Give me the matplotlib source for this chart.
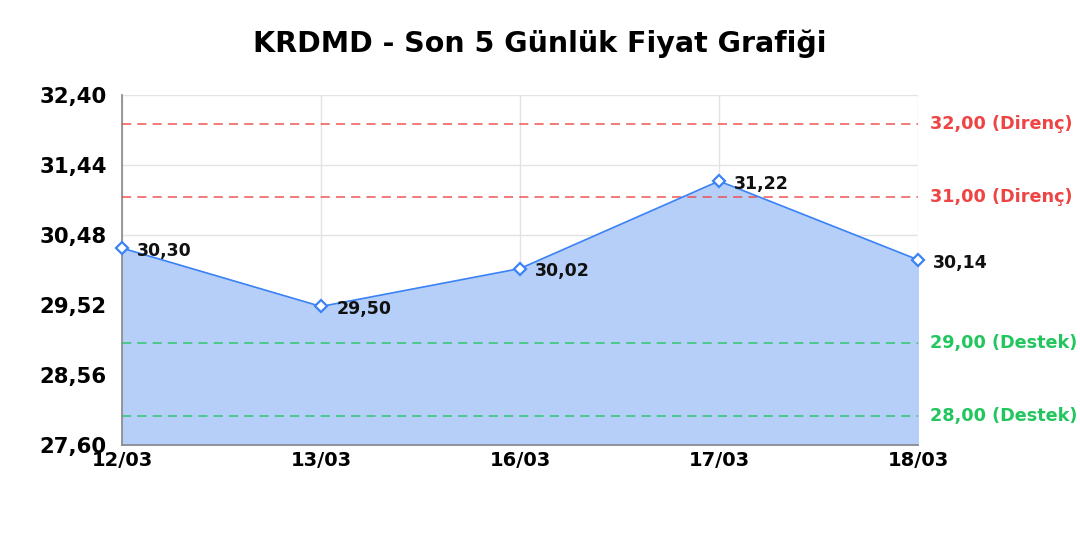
import numpy as np
import matplotlib
matplotlib.use("Agg")
import matplotlib.pyplot as plt

plt.rcParams['font.family'] = ['DejaVu Sans']

# gunler ve kapanis fiyatlari
dates = ["12/03", "13/03", "16/03", "17/03", "18/03"]
prices = [30.30, 29.50, 30.02, 31.22, 30.14]
# direnc / destek seviyeleri
resistance = [32.00, 31.00]
support = [29.00, 28.00]
yticks = [27.60, 28.56, 29.52, 30.48, 31.44, 32.40]

line_col = "#3b82f6"
fill_col = "#b6cff8"
red = "#ef4444"
green = "#22c55e"

fig = plt.figure(figsize=(10.8, 5.4), dpi=100)
ax = fig.add_axes([122/1080, 1-445/540, (918-122)/1080, (445-95)/540])

x = np.arange(len(dates))
ax.fill_between(x, prices, yticks[0], color=fill_col, zorder=1)
ax.plot(x, prices, color=line_col, lw=1.2, marker="D", ms=6,
        mfc="white", mec=line_col, mew=1.6, zorder=4, clip_on=False)

for xi, p in zip(x, prices):
    ax.annotate(f"{p:.2f}".replace(".", ","), (xi, p), xytext=(11, -2),
                textcoords="offset points", ha="left", va="center",
                fontsize=12.5, fontweight="bold", color="#111111", zorder=5)

for lvl in resistance:
    ax.axhline(lvl, color=red, ls=(0, (6, 4)), lw=1.1, alpha=0.9, zorder=3)
    ax.text(1.015, lvl, f"{lvl:.2f}".replace(".", ",") + " (Direnç)",
            transform=ax.get_yaxis_transform(), color=red, fontsize=12.7,
            fontweight="bold", va="center", ha="left")
for lvl in support:
    ax.axhline(lvl, color=green, ls=(0, (6, 4)), lw=1.1, alpha=0.9, zorder=3)
    ax.text(1.015, lvl, f"{lvl:.2f}".replace(".", ",") + " (Destek)",
            transform=ax.get_yaxis_transform(), color=green, fontsize=12.7,
            fontweight="bold", va="center", ha="left")

ax.set_xlim(0, len(dates) - 1)
ax.set_ylim(yticks[0], yticks[-1])
ax.set_xticks(x)
ax.set_xticklabels(dates, fontsize=14, fontweight="bold")
ax.set_yticks(yticks)
ax.set_yticklabels([f"{t:.2f}".replace(".", ",") for t in yticks],
                   fontsize=15.3, fontweight="bold")
ax.tick_params(length=0, pad=11)
ax.tick_params(axis="x", pad=4)
ax.grid(True, color="#e3e3e3", lw=1, zorder=0)
ax.set_axisbelow(True)
for s in ["top", "right"]:
    ax.spines[s].set_visible(False)
for s in ["left", "bottom"]:
    ax.spines[s].set_color("#888888")
    ax.spines[s].set_linewidth(1.2)

fig.suptitle("KRDMD - Son 5 Günlük Fiyat Grafiği", y=1-44/540, va="center",
             fontsize=20.5, fontweight="bold")

fig.savefig("out.png", dpi=100)
